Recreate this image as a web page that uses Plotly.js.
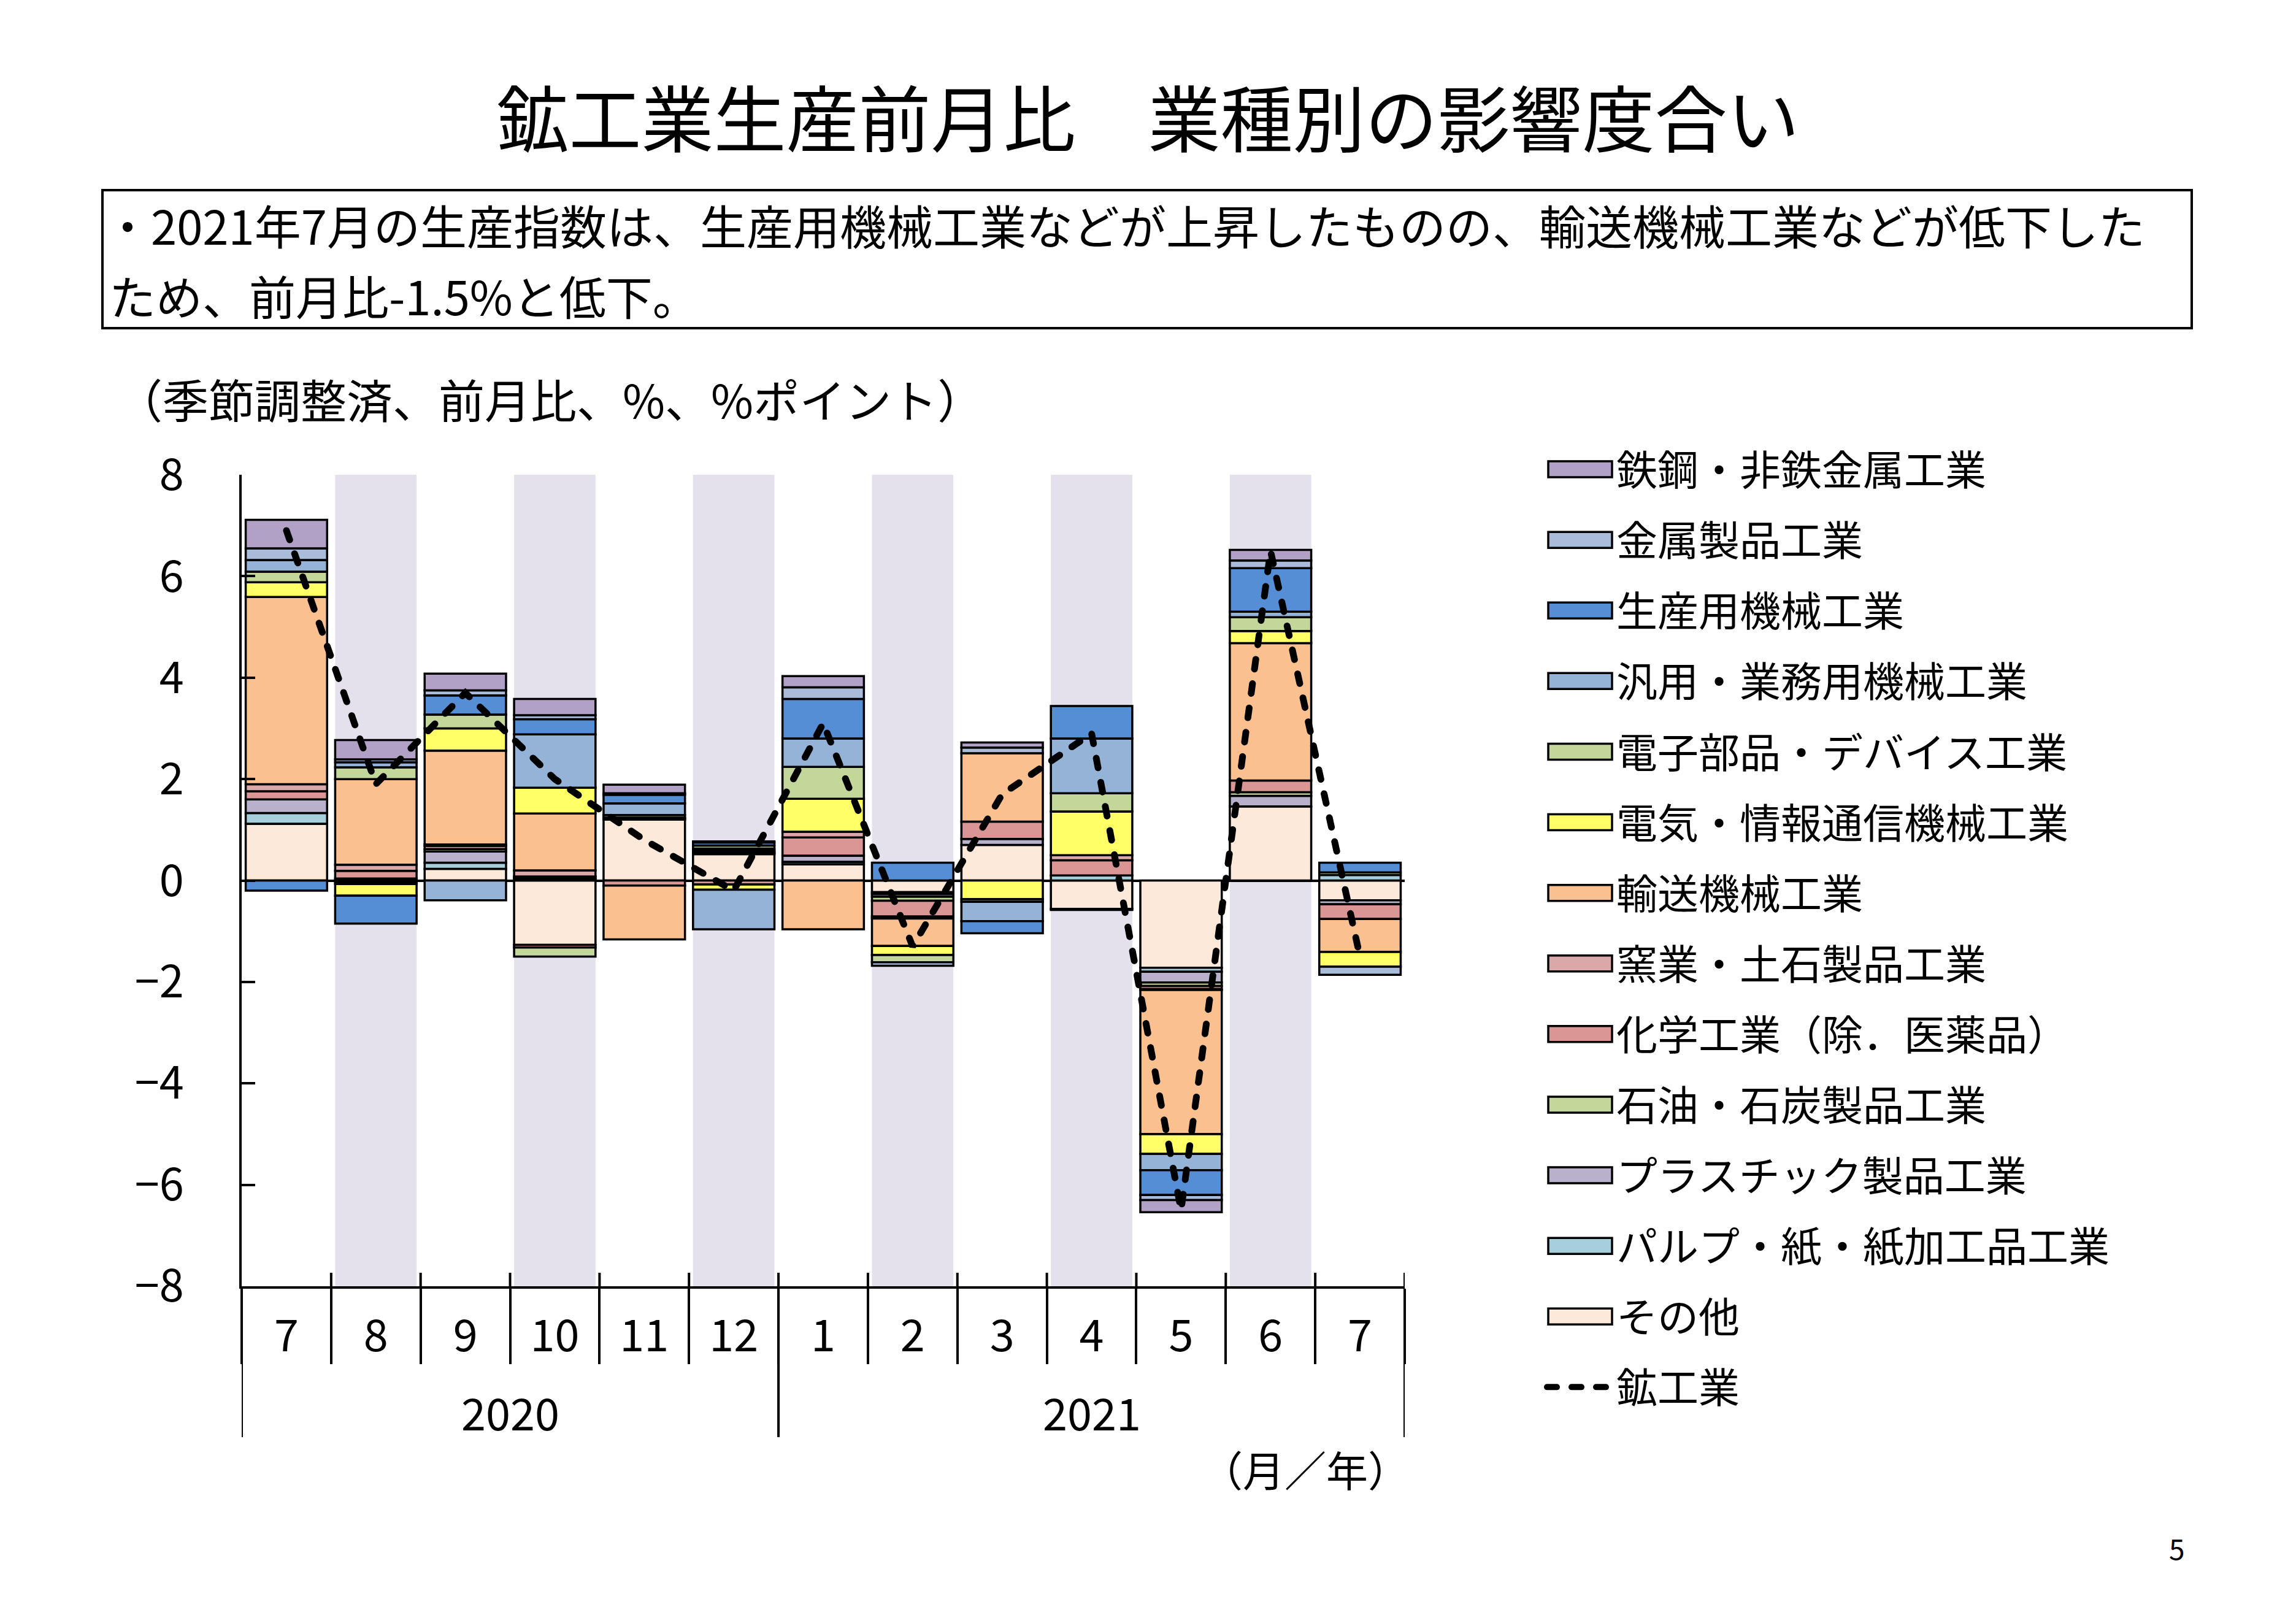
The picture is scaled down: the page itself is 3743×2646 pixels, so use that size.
<!DOCTYPE html>
<html>
<head>
<meta charset="utf-8">
<script src="https://cdn.plot.ly/plotly-3.0.1.min.js"></script>
<style>html,body{margin:0;padding:0;background:#fff}#chart{width:3743px;height:2646px}</style>
</head>
<body>
<div id="chart"></div>
<script>
// ---- data ----
const months = ["7","8","9","10","11","12","1","2","3","4","5","6","7"];
const years  = ["2020","2020","2020","2020","2020","2020","2021","2021","2021","2021","2021","2021","2021"];

const mining      = [6.9, 1.9, 3.7, 2.0, 0.8, -0.2, 3.1, -1.3, 1.7, 2.9, -6.5, 6.5, -1.5]; // 鉱工業
const others      = [1.12, 0.04, 0.23, -1.27, 1.20, 0.52, 0.32, -0.23, 0.70, -0.56, -1.72, 1.46, -0.39]; // その他
const pulp        = [0.21, -0.04, 0.12, 0.02, 0, 0.02, 0.05, -0.04, 0, 0.10, -0.08, 0, 0.11]; // パルプ・紙・紙加工品
const plastic     = [0.27, -0.03, 0.22, 0.03, 0.02, 0.02, 0.12, -0.05, 0.12, 0, -0.21, 0.21, -0.08]; // プラスチック製品
const petroleum   = [0, 0, 0.05, 0.03, 0.02, 0.03, 0, -0.08, 0, 0, -0.07, 0.07, 0]; // 石油・石炭製品
const chemical    = [0.16, 0.15, 0.06, -0.05, -0.10, -0.08, 0.36, -0.31, 0.34, 0.30, -0.06, 0.23, -0.29]; // 化学
const ceramics    = [0.14, 0.12, 0.03, 0.12, 0, 0, 0.11, -0.04, 0, 0.10, -0.02, 0, 0]; // 窯業・土石製品
const transport   = [3.69, 1.69, 1.85, 1.12, -1.06, 0.04, -0.96, -0.54, 1.35, -0.02, -2.84, 2.71, -0.65]; // 輸送機械
const electrical  = [0.29, -0.23, 0.44, 0.51, 0, -0.10, 0.65, -0.18, -0.37, 0.86, -0.39, 0.24, -0.29]; // 電気・情報通信機械
const electronic  = [0.21, 0.23, 0.27, -0.18, 0.05, 0.06, 0.63, -0.14, -0.05, 0.36, 0, 0.27, 0.05]; // 電子部品・デバイス
const generalMach = [0.23, 0.10, -0.39, 1.05, 0.23, -0.78, 0.56, 0, -0.38, 1.08, -0.32, 0.11, 0]; // 汎用・業務用機械
const prodMach    = [-0.20, -0.55, 0.38, 0.30, 0.17, 0.06, 0.78, 0.35, -0.24, 0.64, -0.49, 0.86, 0.19]; // 生産用機械
const metalProd   = [0.23, 0.06, 0.10, 0.08, 0.03, 0.02, 0.23, -0.07, 0.11, 0, -0.10, 0.15, -0.16]; // 金属製品
const steel       = [0.56, 0.38, 0.33, 0.32, 0.17, 0, 0.22, 0, 0.10, 0, -0.24, 0.21, 0]; // 鉄鋼・非鉄金属

// ---- series definitions (stack order from zero outward) ----
const seriesDefs = [
  {name:"その他",                 values: others,      color:"#FDE9D9"},
  {name:"パルプ・紙・紙加工品工業", values: pulp,        color:"#A7CEDB"},
  {name:"プラスチック製品工業",     values: plastic,     color:"#B9B0CC"},
  {name:"石油・石炭製品工業",       values: petroleum,   color:"#C4D79B"},
  {name:"化学工業（除．医薬品）",   values: chemical,    color:"#D99694"},
  {name:"窯業・土石製品工業",       values: ceramics,    color:"#DAA8A8"},
  {name:"輸送機械工業",            values: transport,   color:"#FAC090"},
  {name:"電気・情報通信機械工業",   values: electrical,  color:"#FFFF66"},
  {name:"電子部品・デバイス工業",   values: electronic,  color:"#C4D79B"},
  {name:"汎用・業務用機械工業",     values: generalMach, color:"#95B3D7"},
  {name:"生産用機械工業",          values: prodMach,    color:"#558ED5"},
  {name:"金属製品工業",            values: metalProd,   color:"#ABBCDA"},
  {name:"鉄鋼・非鉄金属工業",       values: steel,       color:"#B2A1C7"}
];

const FONT = '"Noto Sans CJK JP", "Noto Sans", sans-serif';
const cats = years.map((y, i) => y + "年" + months[i] + "月");
const nS = seriesDefs.length;

const traces = [];
seriesDefs.forEach((s, k) => {
  traces.push({
    type: "bar", name: s.name, x: cats,
    y: s.values.map(v => (v === 0 ? null : v)),
    marker: {color: s.color, line: {color: "#000", width: 3.5}},
    legendgroup: "g" + k, legendrank: nS - k, hoverinfo: "skip"
  });
});
traces.push({
  type: "scatter", mode: "lines", name: "鉱工業",
  x: cats, y: mining,
  line: {color: "#000", width: 11, dash: "16px,24px"},
  legendgroup: "g_line", legendrank: nS + 1, hoverinfo: "skip"
});

// ---- geometry ----
const W = 3743, H = 2646;
const plotL = 394, plotR = 2290, plotT = 774, plotB = 2097;
const pw = plotR - plotL, ph = plotB - plotT;
const px2x = px => (px - plotL) / pw;      // page px -> paper x
const py2y = py => (plotB - py) / ph;      // page py -> paper y
const bargap = 0.09;

const shapes = [];
// shaded bands behind alternate months
cats.forEach((c, i) => {
  if (i % 2 === 1) {
    shapes.push({type: "rect", xref: "x", yref: "paper", layer: "below",
      x0: i - (1 - bargap) / 2, x1: i + (1 - bargap) / 2, y0: 0, y1: 1,
      fillcolor: "#E4E0EC", line: {width: 0}});
  }
});
// month tick stubs crossing above the axis line
cats.forEach((c, i) => {
  shapes.push({type: "line", xref: "x", yref: "paper", x0: i + 0.5, x1: i + 0.5,
    y0: 0, y1: 22 / ph, line: {color: "#000", width: 4}});
});
// year group dividers
const bounds = [-0.5];
years.forEach((y, i) => { if (i > 0 && years[i - 1] !== y) bounds.push(i - 0.5); });
bounds.push(years.length - 0.5);
bounds.forEach(b => shapes.push({type: "line", xref: "x", yref: "paper",
  x0: b, x1: b, y0: 0, y1: py2y(2343), line: {color: "#000", width: 4}}));
// text box frame
shapes.push({type: "rect", xref: "paper", yref: "paper",
  x0: px2x(167), x1: px2x(3573), y0: py2y(310), y1: py2y(535),
  line: {color: "#000", width: 4}, fillcolor: "rgba(0,0,0,0)"});

const annotations = [];
// year labels
[...new Set(years)].forEach(y => {
  const idx = years.map((v, i) => v === y ? i : -1).filter(i => i >= 0);
  const c = (idx[0] + idx[idx.length - 1]) / 2;
  annotations.push({xref: "x", yref: "paper", x: c, y: py2y(2300), text: y,
    showarrow: false, xanchor: "center", yanchor: "middle", font: {size: 72}});
});
annotations.push(
  {xref: "paper", yref: "paper", x: px2x(168), y: py2y(366), xanchor: "left", yanchor: "middle",
   text: "・2021年7月の生産指数は、生産用機械工業などが上昇したものの、輸送機械工業などが低下した",
   showarrow: false, font: {size: 76}},
  {xref: "paper", yref: "paper", x: px2x(176), y: py2y(481), xanchor: "left", yanchor: "middle",
   text: "ため、前月比-1.5%と低下。", showarrow: false, font: {size: 76}},
  {xref: "paper", yref: "paper", x: px2x(188), y: py2y(649), xanchor: "left", yanchor: "middle",
   text: "（季節調整済、前月比、%、%ポイント）", showarrow: false, font: {size: 75}},
  {xref: "paper", yref: "paper", x: px2x(2300), y: py2y(2394), xanchor: "right", yanchor: "middle",
   text: "（月／年）", showarrow: false, font: {size: 68}},
  {xref: "paper", yref: "paper", x: px2x(3549), y: py2y(2523), xanchor: "center", yanchor: "middle",
   text: "5", showarrow: false, font: {size: 46}}
);

const layout = {
  width: W, height: H,
  margin: {l: plotL, r: W - plotR, t: plotT, b: H - plotB, pad: 0},
  paper_bgcolor: "#fff", plot_bgcolor: "rgba(0,0,0,0)",
  font: {family: FONT, color: "#000"},
  barmode: "relative", bargap: bargap,
  showlegend: true, hovermode: false,
  title: {text: "鉱工業生産前月比　業種別の影響度合い", font: {size: 118, color: "#000"},
    xref: "container", x: 0.5, xanchor: "center", yref: "container", y: 1 - 198 / H, yanchor: "middle"},
  xaxis: {type: "category", tickmode: "array", tickvals: cats, ticktext: months,
    tickson: "boundaries", ticks: "outside", ticklen: 123, tickwidth: 4, tickcolor: "#000",
    showline: true, linewidth: 4, linecolor: "#000", showgrid: false, zeroline: false,
    tickfont: {size: 72}, ticklabelstandoff: 16, range: [-0.5, cats.length - 0.5], fixedrange: true},
  yaxis: {range: [-8, 8], tick0: 0, dtick: 2, ticks: "inside", ticklen: 22, tickwidth: 4, tickcolor: "#000",
    showline: true, linewidth: 4, linecolor: "#000", showgrid: false,
    zeroline: true, zerolinecolor: "#000", zerolinewidth: 4,
    tickfont: {size: 72}, ticklabelstandoff: 76, fixedrange: true},
  legend: {x: px2x(2517), xanchor: "left", xref: "paper", y: py2y(715), yanchor: "top", yref: "paper",
    traceorder: "grouped", tracegroupgap: 25, itemwidth: 108, maxheight: 2200,
    font: {size: 67}, bgcolor: "rgba(0,0,0,0)", borderwidth: 0},
  shapes: shapes, annotations: annotations
};

Plotly.newPlot("chart", traces, layout, {displayModeBar: false, staticPlot: true}).then(gd => {
  // widen bar swatches in the legend to match the reference's long rectangles
  gd.querySelectorAll(".legend .legendpoints path").forEach(p => {
    const d = p.getAttribute("d") || "";
    if (/^M6,6H-6V-6H6Z$/.test(d.replace(/\s/g, ""))) {
      p.setAttribute("d", "M52,13H-52V-13H52Z");
    }
  });
  gd.querySelectorAll(".js-line").forEach(p => { p.style.strokeLinecap = "round"; });
});
</script>
</body>
</html>
